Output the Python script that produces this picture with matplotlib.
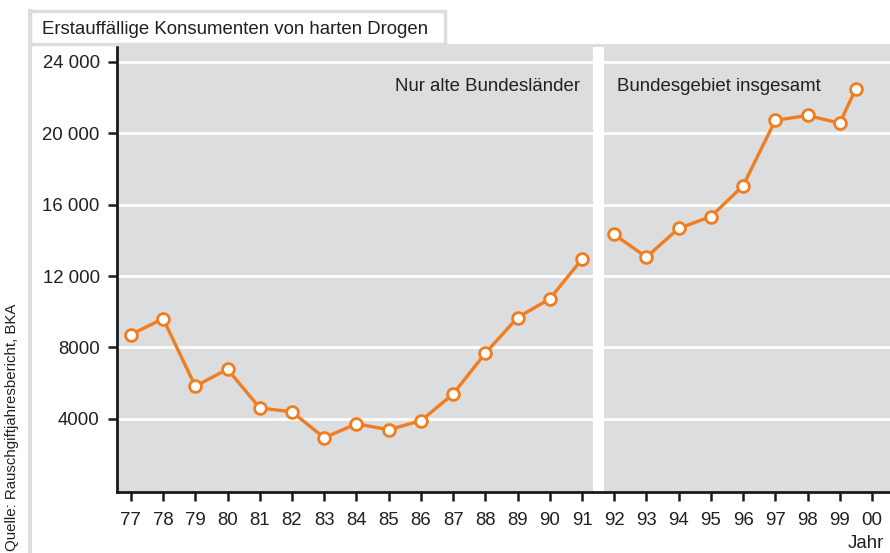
import matplotlib.pyplot as plt
from matplotlib.patches import Rectangle
from matplotlib.lines import Line2D
import matplotlib.transforms as mtransforms

# data
years_old = [77, 78, 79, 80, 81, 82, 83, 84, 85, 86, 87, 88, 89, 90, 91]
values_old = [8720, 9610, 5830, 6780, 4610, 4390, 2940, 3720, 3390, 3890,
              5390, 7670, 9670, 10720, 12940]
years_new = [92, 93, 94, 95, 96, 97, 98, 99, 99.5]
values_new = [14330, 13060, 14670, 15330, 17060, 20720, 21000, 20560, 22500]

xtick_pos = list(range(77, 101))
xtick_labels = [f"{y % 100:02d}" for y in xtick_pos]
ytick_pos = [4000, 8000, 12000, 16000, 20000, 24000]
ytick_labels = ["4000", "8000", "12 000", "16 000", "20 000", "24 000"]

plt.rcParams["font.family"] = ["Liberation Sans", "DejaVu Sans"]

orange = "#f07d1f"
panel = "#dcdddf"
txt = "#231f20"
W, H = 890, 553

fig = plt.figure(figsize=(8.9, 5.53), dpi=100)
fig.patch.set_facecolor("white")

# left frame line and title tab
fig.add_artist(Line2D([30 / W, 30 / W], [0, 1 - 11 / H], color=panel, lw=3,
                      transform=fig.transFigure))
fig.add_artist(Rectangle((30 / W, 1 - 44 / H), 415 / W, 33 / H,
                         transform=fig.transFigure, facecolor="white",
                         edgecolor=panel, lw=2.5))
fig.text(42 / W, 1 - 29 / H, "Erstauffällige Konsumenten von harten Drogen",
         fontsize=13.4, color=txt, va="center", ha="left")

ax = fig.add_axes([117 / W, 61 / H, 1 - 117 / W, (492 - 44) / H])
ax.set_facecolor(panel)
ax.set_xlim(76.57, 100.56)
ax.set_ylim(-100, 25000)

for y in ytick_pos:
    ax.axhline(y, color="white", lw=2, zorder=1)

ax.axvspan(91.33, 91.67, ymin=0, ymax=0.993, color="white", lw=0, zorder=1)

for xs, ys in [(years_old, values_old), (years_new, values_new)]:
    ax.plot(xs, ys, color=orange, lw=2.4, marker="o", markersize=8.5,
            markerfacecolor="white", markeredgecolor=orange,
            markeredgewidth=2, zorder=3, clip_on=False)

blend = mtransforms.blended_transform_factory(ax.transData, ax.transAxes)
ax.text(90.95, 0.905, "Nur alte Bundesländer", transform=blend, ha="right",
        va="center", fontsize=13.4, color=txt)
ax.text(92.1, 0.905, "Bundesgebiet insgesamt", transform=blend, ha="left",
        va="center", fontsize=13.4, color=txt)

ax.set_xticks(xtick_pos)
ax.set_xticklabels(xtick_labels)
ax.set_yticks(ytick_pos)
ax.set_yticklabels(ytick_labels)
ax.tick_params(axis="both", direction="out", length=6.5, width=1.8,
               color="#1a1a1a", labelsize=13.4, labelcolor=txt)
ax.tick_params(axis="x", pad=8)
ax.tick_params(axis="y", pad=6)

for side in ["top", "right"]:
    ax.spines[side].set_visible(False)
for side in ["left", "bottom"]:
    ax.spines[side].set_linewidth(2)
    ax.spines[side].set_color("#1a1a1a")

fig.text(866 / W, 1 - 543 / H, "Jahr", fontsize=13.4, color=txt,
         ha="center", va="center")
fig.text(12 / W, 2 / H, "Quelle: Rauschgiftjahresbericht, BKA",
         rotation=90, fontsize=10.8, color=txt, ha="center", va="bottom")

fig.savefig("out.png", dpi=100)
